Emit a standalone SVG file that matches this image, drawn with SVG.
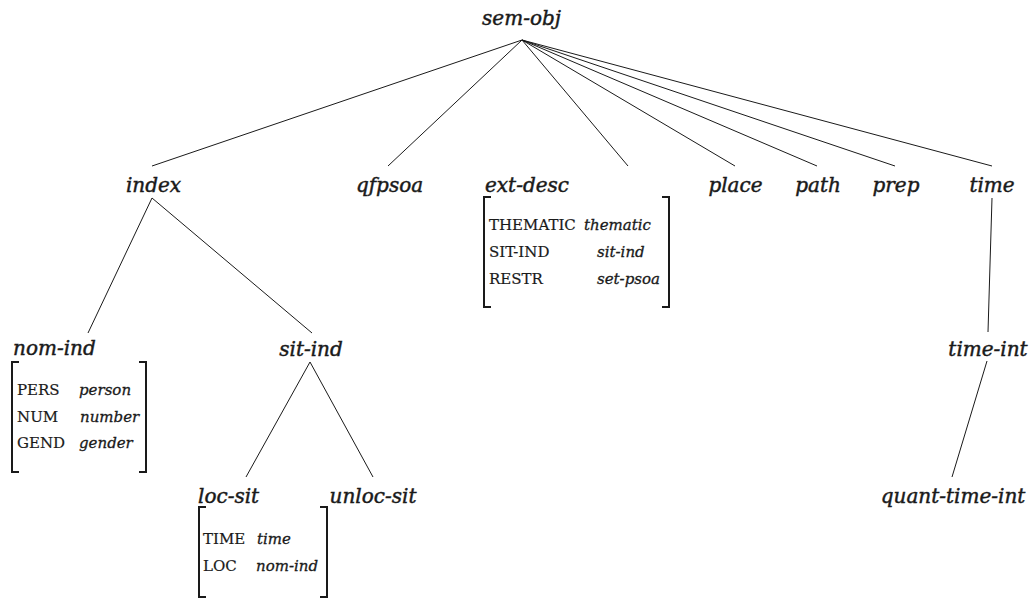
<svg xmlns="http://www.w3.org/2000/svg" width="1036" height="599" viewBox="0 0 1036 599">
  <style>
    .type { font-family: "DejaVu Serif", "Liberation Serif", serif; font-style: italic; font-size: 20px; fill: #1a1a1a; stroke: #1a1a1a; stroke-width: 0.45; }
    .feat { font-family: "DejaVu Serif", "Liberation Serif", serif; font-size: 15px; fill: #1a1a1a; stroke: #1a1a1a; stroke-width: 0.2; }
    .val { font-family: "DejaVu Serif", "Liberation Serif", serif; font-style: italic; font-size: 15px; fill: #1a1a1a; stroke: #1a1a1a; stroke-width: 0.3; }
    .edge { stroke: #1a1a1a; stroke-width: 1; fill: none; }
    .brk { stroke: #1a1a1a; stroke-width: 2; fill: none; }
  </style>
  <rect width="1036" height="599" fill="#ffffff"/>

  <!-- type hierarchy branches -->
  <g id="connectors">
    <line class="edge" x1="522" y1="40" x2="152" y2="166"/>
    <line class="edge" x1="522" y1="40" x2="388" y2="166"/>
    <line class="edge" x1="522" y1="40" x2="628" y2="166"/>
    <line class="edge" x1="522" y1="40" x2="735" y2="166"/>
    <line class="edge" x1="522" y1="40" x2="817" y2="166"/>
    <line class="edge" x1="522" y1="40" x2="895" y2="166"/>
    <line class="edge" x1="522" y1="40" x2="992" y2="166"/>
    <line class="edge" x1="152" y1="198" x2="88" y2="333"/>
    <line class="edge" x1="152" y1="198" x2="312" y2="333"/>
    <line class="edge" x1="310" y1="362" x2="246" y2="477"/>
    <line class="edge" x1="310" y1="362" x2="373" y2="477"/>
    <line class="edge" x1="992" y1="198" x2="988" y2="332"/>
    <line class="edge" x1="987" y1="361" x2="952" y2="477"/>
  </g>

  <g id="sem-obj">
    <text class="type" x="521.5" y="25" text-anchor="middle">sem-obj</text>
  </g>
  <g id="index">
    <text class="type" x="153.5" y="192" text-anchor="middle">index</text>
  </g>
  <g id="qfpsoa">
    <text class="type" x="389.5" y="192" text-anchor="middle">qfpsoa</text>
  </g>
  <g id="ext-desc">
    <text class="type" x="485" y="192">ext-desc</text>
    <path class="brk" d="M491,197 H484 V307 H491"/>
    <path class="brk" d="M662,197 H669 V307 H662"/>
    <text class="feat" x="489" y="230">THEMATIC</text>
    <text class="val" x="584" y="230">thematic</text>
    <text class="feat" x="489" y="257">SIT-IND</text>
    <text class="val" x="597" y="257">sit-ind</text>
    <text class="feat" x="489" y="284">RESTR</text>
    <text class="val" x="597" y="284">set-psoa</text>
  </g>
  <g id="place">
    <text class="type" x="735.5" y="192" text-anchor="middle">place</text>
  </g>
  <g id="path">
    <text class="type" x="818" y="192" text-anchor="middle">path</text>
  </g>
  <g id="prep">
    <text class="type" x="896" y="192" text-anchor="middle">prep</text>
  </g>
  <g id="time">
    <text class="type" x="992" y="192" text-anchor="middle">time</text>
  </g>
  <g id="nom-ind">
    <text class="type" x="13" y="355">nom-ind</text>
    <path class="brk" d="M19,362 H12 V472 H19"/>
    <path class="brk" d="M139,362 H146 V472 H139"/>
    <text class="feat" x="17" y="395">PERS</text>
    <text class="val" x="79" y="395">person</text>
    <text class="feat" x="17" y="422">NUM</text>
    <text class="val" x="80" y="422">number</text>
    <text class="feat" x="17" y="448">GEND</text>
    <text class="val" x="79" y="448">gender</text>
  </g>
  <g id="sit-ind">
    <text class="type" x="311" y="356" text-anchor="middle">sit-ind</text>
  </g>
  <g id="loc-sit">
    <text class="type" x="198" y="503">loc-sit</text>
    <path class="brk" d="M206,507 H199 V597 H206"/>
    <path class="brk" d="M320,507 H327 V597 H320"/>
    <text class="feat" x="203" y="544">TIME</text>
    <text class="val" x="257" y="544">time</text>
    <text class="feat" x="203" y="571">LOC</text>
    <text class="val" x="256" y="571">nom-ind</text>
  </g>
  <g id="unloc-sit">
    <text class="type" x="373" y="503" text-anchor="middle">unloc-sit</text>
  </g>
  <g id="time-int">
    <text class="type" x="988" y="356" text-anchor="middle">time-int</text>
  </g>
  <g id="quant-time-int">
    <text class="type" x="953" y="503" text-anchor="middle">quant-time-int</text>
  </g>
</svg>
